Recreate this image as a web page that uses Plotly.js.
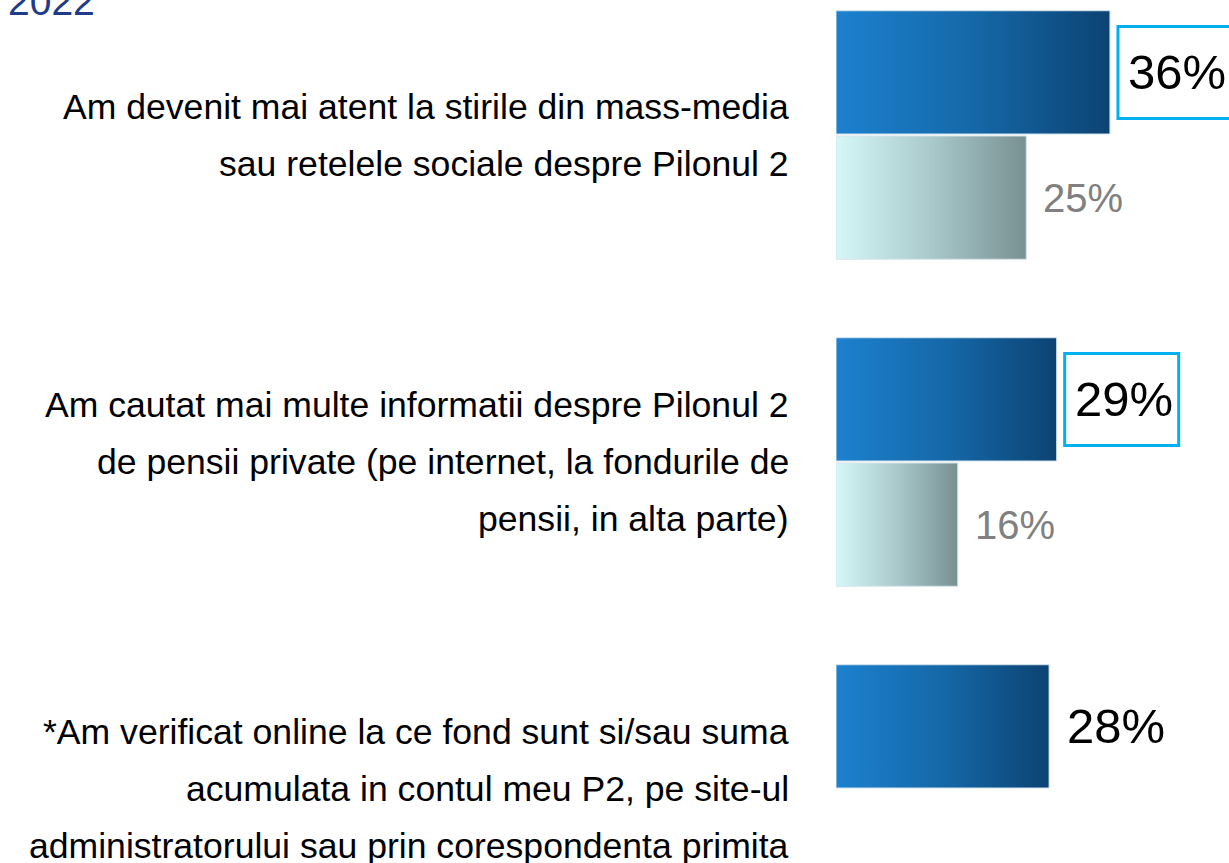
<!DOCTYPE html>
<html>
<head>
<meta charset="utf-8">
<script src="https://cdn.plot.ly/plotly-3.0.1.min.js"></script>
<style>html,body{margin:0;padding:0;background:#fff;}#chart{width:1229px;height:863px;}</style>
</head>
<body>
<div id="chart"></div>
<script>
// ---- data ----
const categories = [
  "Am devenit mai atent la stirile din mass-media<br>sau retelele sociale despre Pilonul 2",
  "Am cautat mai multe informatii despre Pilonul 2<br>de pensii private (pe internet, la fondurile de<br>pensii, in alta parte)",
  "*Am verificat online la ce fond sunt si/sau suma<br>acumulata in contul meu P2, pe site-ul<br>administratorului sau prin corespondenta primita"
];
const seriesCurrent = [36, 29, 28];      // dark blue bars
const seriesPrevious = [25, 16, null];   // light bars
const highlightCurrent = [true, true, false];
const legendLabel = "2022";

// ---- styling ----
const FONT = "Liberation Sans Narrow, Arial Narrow, Liberation Sans, Arial, sans-serif";
const barH = 0.377, gap = 0.003;
const traces = [];
const annotations = [];
const shapes = [];

function barTrace(v, top, bottom, scale) {
  return {
    type: 'scatter', mode: 'lines', fill: 'toself',
    x: [0, v, v, 0, 0],
    y: [top, top, bottom, bottom, top],
    line: {color: '#d6e4ec', width: 1},
    fillgradient: {type: 'horizontal', colorscale: scale},
    hoverinfo: 'skip', showlegend: false
  };
}

categories.forEach((cat, i) => {
  const vc = seriesCurrent[i];
  const vp = seriesPrevious[i];
  if (vc != null) {
    const yc = i - gap - barH / 2;
    traces.push(barTrace(vc, i - gap - barH, i - gap, [[0, '#1c81cf'], [0.5, '#1568a8'], [1, '#0c4373']]));
    annotations.push({
      xref: 'x', yref: 'y', x: vc, y: yc,
      xanchor: 'left', yanchor: 'middle', xshift: 16,
      text: vc + '%', showarrow: false,
      font: {family: FONT, size: 49, color: '#000'}
    });
    if (highlightCurrent[i]) {
      shapes.push({
        type: 'rect', xref: 'x', yref: 'y',
        xsizemode: 'pixel', ysizemode: 'pixel',
        xanchor: vc, yanchor: yc,
        x0: 8, x1: 122, y0: -46, y1: 46,
        line: {color: '#00b0f0', width: 3}, fillcolor: 'rgba(0,0,0,0)'
      });
    }
  }
  if (vp != null) {
    traces.push(barTrace(vp, i + gap, i + gap + barH, [[0, '#d6f7f7'], [0.5, '#a9c9cb'], [1, '#789092']]));
    annotations.push({
      xref: 'x', yref: 'y', x: vp, y: i + gap + barH / 2,
      xanchor: 'left', yanchor: 'middle', xshift: 15,
      text: vp + '%', showarrow: false,
      font: {family: FONT, size: 40, color: '#808080'}
    });
  }
  const lines = cat.split('<br>');
  lines.forEach((ln, k) => {
    annotations.push({
      xref: 'paper', yref: 'y', x: (791 - 836) / 393, y: i,
      yshift: -(k - (lines.length - 1) / 2) * 57,
      xanchor: 'right', yanchor: 'middle', align: 'right',
      text: ln, showarrow: false,
      font: {family: FONT, size: 35.6, color: '#000'}
    });
  });
});

annotations.push({
  xref: 'paper', yref: 'paper', x: (6 - 836) / 393, y: 1 - 25 / 863,
  xanchor: 'left', yanchor: 'bottom', text: legendLabel, showarrow: false,
  font: {family: FONT, size: 39, color: '#1f3c88'}
});

const yMin = -135 / 327;
const yMax = yMin + 863 / 327;

const layout = {
  width: 1229, height: 863,
  margin: {l: 836, r: 0, t: 0, b: 0, pad: 0},
  paper_bgcolor: '#fff', plot_bgcolor: '#fff',
  xaxis: {range: [0, 393 / 7.61], visible: false, fixedrange: true},
  yaxis: {range: [yMax, yMin], visible: false, fixedrange: true},
  showlegend: false,
  annotations: annotations,
  shapes: shapes
};

Plotly.newPlot('chart', traces, layout, {displayModeBar: false, staticPlot: true});
</script>
</body>
</html>
